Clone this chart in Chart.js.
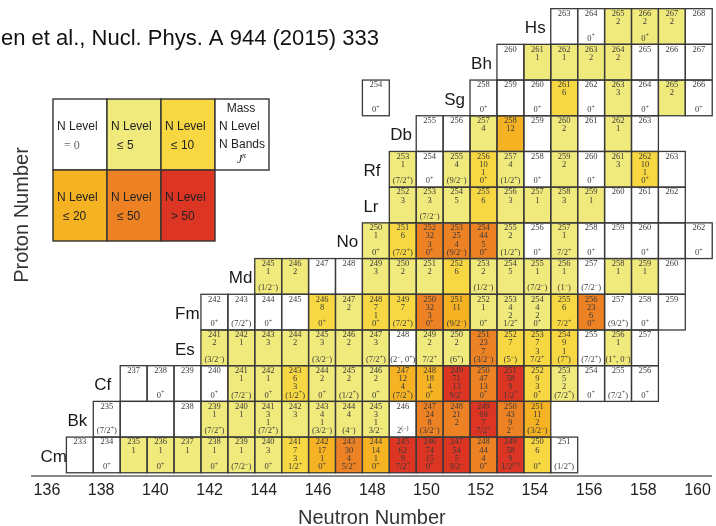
<!DOCTYPE html>
<html>
<head>
<meta charset="utf-8">
<title>Heavy nuclei: levels and bands</title>
<script src="https://cdn.jsdelivr.net/npm/chart.js@4.4.1/dist/chart.umd.min.js"></script>
<style>
  html, body { margin: 0; padding: 0; background: #fff; }
</style>
</head>
<body>
<canvas id="nucChart" width="716" height="526"></canvas>
<script>
"use strict";

const elementSymbols = ["Cm", "Bk", "Cf", "Es", "Fm", "Md", "No", "Lr", "Rf", "Db", "Sg", "Bh", "Hs"];
const protonNumbers = [96, 97, 98, 99, 100, 101, 102, 103, 104, 105, 106, 107, 108];
const neutronTicks = [136, 138, 140, 142, 144, 146, 148, 150, 152, 154, 156, 158, 160];

// [mass, N level, N bands, J^pi] -- a null level is an empty slot
const cm = [[233, 0, "", ""], [234, 0, "", "0+"], [235, 1, "", ""], [236, 1, "", "0+"], [237, 1, "", ""],
  [238, 1, "", "0+"], [239, 1, "", "(7/2-)"], [240, 3, "", "0+"], [241, 7, 3, "1/2+"], [242, 17, 1, "0+"],
  [243, 30, 4, "5/2+"], [244, 14, 1, "0+"], [245, 62, 9, "7/2+"], [246, 74, 15, "0+"], [247, 54, 5, "9/2-"],
  [248, 44, 4, "0+"], [249, 58, 9, "1/2(+)"], [250, 6, "", "0+"], [251, 0, "", "(1/2+)"]];
const bk = [[235, 0, "", "(7/2+)"], [236, null], [237, null], [238, 0, "", ""], [239, 1, "", "(7/2+)"],
  [240, 1, "", ""], [241, 3, 1, "(7/2+)"], [242, 3, "", ""], [243, 4, 1, "(3/2-)"], [244, 4, "", "(4-)"],
  [245, 3, 1, "3/2-"], [246, 0, "", "2(-)"], [247, 24, 8, "(3/2-)"], [248, 21, 2, ""], [249, 69, 7, "7/2+"],
  [250, 43, 9, "2-"], [251, 11, 2, "(3/2-)"]];
const cf = [[237, 0, "", ""], [238, 0, "", "0+"], [239, 0, "", ""], [240, 0, "", "0+"], [241, 1, "", "(7/2-)"],
  [242, 1, "", "0+"], [243, 6, 3, "(1/2+)"], [244, 2, "", "0+"], [245, 2, "", "(1/2+)"], [246, 2, "", "0+"],
  [247, 12, 4, "(7/2+)"], [248, 18, 4, "0+"], [249, 71, 13, "9/2-"], [250, 47, 13, "0+"], [251, 58, 9, "1/2+"],
  [252, 9, 3, "0+"], [253, 5, 2, "(7/2+)"], [254, 0, "", "0+"], [255, 0, "", "(7/2+)"], [256, 0, "", "0+"]];
const es = [[241, 2, "", "(3/2-)"], [242, 1, "", ""], [243, 3, "", ""], [244, 2, "", ""], [245, 3, "", "(3/2-)"],
  [246, 2, "", ""], [247, 3, "", "(7/2+)"], [248, 0, "", "(2-, 0+)"], [249, 2, "", "7/2+"], [250, 2, "", "(6+)"],
  [251, 23, 7, "(3/2-)"], [252, 7, "", "(5-)"], [253, 7, 3, "7/2+"], [254, 9, 1, "(7+)"], [255, 0, "", "(7/2+)"],
  [256, 1, "", "(1+, 0-)"], [257, 0, "", ""]];
const fm = [[242, 0, "", "0+"], [243, 0, "", "(7/2+)"], [244, 0, "", "0+"], [245, 0, "", ""], [246, 8, "", "0+"],
  [247, 2, "", ""], [248, 7, 1, "0+"], [249, 7, "", "(7/2+)"], [250, 32, 3, "0+"], [251, 11, "", "(9/2-)"],
  [252, 1, "", "0+"], [253, 4, 2, "1/2+"], [254, 4, 2, "0+"], [255, 6, "", "7/2+"], [256, 23, 6, "0+"],
  [257, 0, "", "(9/2+)"], [258, 0, "", "0+"], [259, 0, "", ""]];
const md = [[245, 1, "", "(1/2-)"], [246, 2, "", ""], [247, 0, "", ""], [248, 0, "", ""], [249, 3, "", ""],
  [250, 2, "", ""], [251, 2, "", ""], [252, 6, "", ""], [253, 2, "", "(1/2-)"], [254, 5, "", ""],
  [255, 1, "", "(7/2-)"], [256, 1, "", "(1-)"], [257, 0, "", "(7/2-)"], [258, 1, "", ""], [259, 1, "", ""],
  [260, 0, "", ""]];
const no = [[250, 1, "", "0+"], [251, 6, "", "(7/2+)"], [252, 32, 3, "0+"], [253, 25, 4, "(9/2-)"], [254, 44, 5, "0+"],
  [255, 2, "", "(1/2+)"], [256, 0, "", "0+"], [257, 1, "", "7/2+"], [258, 0, "", "0+"], [259, 0, "", ""],
  [260, 0, "", "0+"], [261, null], [262, 0, "", "0+"]];
const lr = [[252, 3, "", ""], [253, 3, "", "(7/2-)"], [254, 5, "", ""], [255, 6, "", ""], [256, 3, "", ""],
  [257, 1, "", ""], [258, 3, "", ""], [259, 1, "", ""], [260, 0, "", ""], [261, 0, "", ""], [262, 0, "", ""]];
const rf = [[253, 1, "", "(7/2+)"], [254, 0, "", "0+"], [255, 4, "", "(9/2-)"], [256, 10, 1, "0+"], [257, 4, "", "(1/2+)"],
  [258, 0, "", "0+"], [259, 2, "", ""], [260, 0, "", "0+"], [261, 3, "", ""], [262, 10, 1, "0+"], [263, 0, "", ""]];
const db = [[255, 0, "", ""], [256, 0, "", ""], [257, 4, "", ""], [258, 12, "", ""], [259, 0, "", ""],
  [260, 2, "", ""], [261, 0, "", ""], [262, 1, "", ""], [263, 0, "", ""]];
const sg = [[254, 0, "", "0+"], [258, 0, "", "0+"], [259, 0, "", ""], [260, 0, "", "0+"], [261, 6, "", ""],
  [262, 0, "", "0+"], [263, 3, "", ""], [264, 0, "", "0+"], [265, 2, "", ""], [266, 0, "", "0+"]];
const bh = [[260, 0, "", ""], [261, 1, "", ""], [262, 1, "", ""], [263, 2, "", ""], [264, 2, "", ""],
  [265, 0, "", ""], [266, 0, "", ""], [267, 0, "", ""]];
const hs = [[263, 0, "", ""], [264, 0, "", "0+"], [265, 2, "", ""], [266, 2, "", "0+"], [267, 2, "", ""], [268, 0, "", ""]];
const nucleiByRow = [cm, bk, cf, es, fm, md, no, lr, rf, db, sg, bh, hs];

const levelColors = ["#ffffff", "#f0e97c", "#f7d842", "#f5b324", "#ed8225", "#dc3523"];
const legendLabels = ["= 0", "\u2264 5", "\u2264 10", "\u2264 20", "\u2264 50", "> 50"];

function colorFor(level) {
  if (!level) return levelColors[0];
  if (level <= 5) return levelColors[1];
  if (level <= 10) return levelColors[2];
  if (level <= 20) return levelColors[3];
  if (level <= 50) return levelColors[4];
  return levelColors[5];
}

// one floating bar per nucleus, empty neighbours merged into one box
const cells = [];
const rowLabels = [];
nucleiByRow.forEach((row, r) => {
  const z = protonNumbers[r];
  let blockStart = null, prevN = null;
  row.forEach(([mass, level, bands, spin]) => {
    const n = mass - z;
    if (prevN === null || n !== prevN + 1) blockStart = n;
    prevN = n;
    const last = cells[cells.length - 1];
    if (level === null && last && last.y === z && last.level === null) {
      last.x[1] = n + 0.5;
      return;
    }
    cells.push({ x: [n - 0.5, n + 0.5], y: z, mass: level === null ? null : mass, level, bands, spin });
  });
  rowLabels.push({ text: elementSymbols[r], z, n: blockStart });
});

function drawSpin(ctx, spin, cx, cy) {
  const sign = s => (s === "-" ? "\u2212" : "+");
  const parts = [];
  for (let i = 0; i < spin.length; i++) {
    const ch = spin[i];
    if (ch === "(" && (spin[i + 1] === "+" || spin[i + 1] === "-") && spin[i + 2] === ")") {
      parts.push({ t: "(" + sign(spin[i + 1]) + ")", sup: true });
      i += 2;
    } else if (ch === "+" || ch === "-") {
      parts.push({ t: sign(ch), sup: true });
    } else {
      parts.push({ t: ch, sup: false });
    }
  }
  const baseFont = '8.5px "Liberation Serif"';
  const supFont = '6px "Liberation Serif"';
  let total = 0;
  parts.forEach(p => {
    ctx.font = p.sup ? supFont : baseFont;
    p.w = ctx.measureText(p.t).width;
    total += p.w;
  });
  let px = cx - total / 2;
  ctx.textAlign = "left";
  parts.forEach(p => {
    ctx.font = p.sup ? supFont : baseFont;
    ctx.fillText(p.t, px, p.sup ? cy - 2.5 : cy);
    px += p.w;
  });
  ctx.textAlign = "center";
}

const cellTextPlugin = {
  id: "cellText",
  afterDatasetsDraw(chart) {
    const ctx = chart.ctx;
    const meta = chart.getDatasetMeta(0);
    const xScale = chart.scales.x;
    const yScale = chart.scales.y;
    ctx.save();
    ctx.strokeStyle = "#3a3a3a";
    ctx.lineWidth = 1.3;
    ctx.textBaseline = "middle";
    meta.data.forEach((bar, i) => {
      const c = cells[i];
      const { x, y, base, height } = bar.getProps(["x", "y", "base", "height"], true);
      const left = Math.min(x, base);
      const w = Math.abs(x - base);
      const top = y - height / 2;
      ctx.strokeRect(left, top, w, height);
      if (c.mass === null) return;
      const cx = left + w / 2;
      ctx.fillStyle = "#3a3a3a";
      ctx.font = '8.5px "Liberation Serif"';
      ctx.textAlign = "center";
      ctx.fillText(String(c.mass), cx, top + height * 0.14);
      if (c.level) ctx.fillText(String(c.level), cx, top + height * 0.37);
      if (c.bands !== "") ctx.fillText(String(c.bands), cx, top + height * 0.6);
      if (c.spin) drawSpin(ctx, c.spin, cx, top + height * 0.83);
    });

    // element symbols in front of each row
    ctx.fillStyle = "#1a1a1a";
    ctx.font = '17px "Liberation Sans"';
    ctx.textAlign = "left";
    rowLabels.forEach(l => {
      ctx.fillText(l.text, xScale.getPixelForValue(l.n - 1.5) + 1, yScale.getPixelForValue(l.z) + 2);
    });
    ctx.restore();
  },
  afterDraw(chart) {
    const ctx = chart.ctx;
    ctx.save();
    // reference, cut at the left edge as in the original slide
    ctx.fillStyle = "#111";
    ctx.font = '22px "Liberation Sans"';
    ctx.textAlign = "left";
    ctx.textBaseline = "alphabetic";
    ctx.fillText("en et al., Nucl. Phys. A 944 (2015) 333", 1, 45);

    // y axis title
    ctx.save();
    ctx.translate(22, 215);
    ctx.rotate(-Math.PI / 2);
    ctx.font = '20px "Liberation Sans"';
    ctx.fillStyle = "#333";
    ctx.textAlign = "center";
    ctx.textBaseline = "middle";
    ctx.fillText("Proton Number", 0, 0);
    ctx.restore();

    // colour key
    const cols = [53, 107, 161, 215, 269];
    const rows = [99, 170, 241];
    const boxes = [
      [0, 0, 0], [1, 0, 1], [2, 0, 2],
      [0, 1, 3], [1, 1, 4], [2, 1, 5]
    ];
    ctx.lineWidth = 1.4;
    ctx.strokeStyle = "#333";
    ctx.textBaseline = "middle";
    boxes.forEach(([c, r, k]) => {
      const x0 = cols[c], y0 = rows[r], w = cols[c + 1] - x0, h = rows[r + 1] - y0;
      ctx.fillStyle = levelColors[k];
      ctx.fillRect(x0, y0, w, h);
      ctx.strokeRect(x0, y0, w, h);
      ctx.fillStyle = "#222";
      ctx.textAlign = "left";
      ctx.font = '12px "Liberation Sans"';
      ctx.fillText("N Level", x0 + 4, y0 + 28);
      ctx.fillStyle = k === 0 ? "#666" : "#222";
      ctx.font = k === 0 ? '12px "Liberation Serif"' : '12px "Liberation Sans"';
      ctx.fillText(legendLabels[k], x0 + (k === 0 ? 11 : 10), y0 + 47);
    });
    const dx = cols[3], dy = rows[0], dw = cols[4] - cols[3], dh = rows[1] - rows[0];
    ctx.fillStyle = "#fff";
    ctx.fillRect(dx, dy, dw, dh);
    ctx.strokeRect(dx, dy, dw, dh);
    ctx.fillStyle = "#222";
    ctx.font = '12px "Liberation Sans"';
    ctx.textAlign = "center";
    ctx.fillText("Mass", dx + 26, dy + 10);
    ctx.textAlign = "left";
    ctx.fillText("N Level", dx + 4, dy + 28);
    ctx.fillText("N Bands", dx + 4, dy + 46);
    ctx.font = 'italic 12px "Liberation Serif"';
    ctx.fillText("J", dx + 22, dy + 61);
    ctx.font = 'italic 8px "Liberation Serif"';
    ctx.fillText("\u03c0", dx + 27, dy + 57);
    ctx.restore();
  }
};

new Chart(document.getElementById("nucChart"), {
  type: "bar",
  data: {
    datasets: [{
      data: cells,
      xAxisID: "x",
      yAxisID: "y",
      backgroundColor: ctx => colorFor(ctx.raw ? ctx.raw.level : 0),
      borderWidth: 0,
      borderSkipped: false,
      categoryPercentage: 1,
      barPercentage: 1
    }]
  },
  options: {
    indexAxis: "y",
    responsive: false,
    animation: false,
    events: [],
    layout: { padding: { left: 32, right: 2, top: 4, bottom: 0 } },
    plugins: {
      legend: { display: false },
      tooltip: { enabled: false }
    },
    scales: {
      x: {
        type: "linear",
        axis: "x",
        display: false,
        min: 135.222,
        max: 160.481,
        beginAtZero: false
      },
      x2: {
        type: "linear",
        axis: "x",
        position: "bottom",
        min: 135.449,
        max: 160.522,
        beginAtZero: false,
        afterBuildTicks: scale => {
          scale.ticks = neutronTicks.map(v => ({ value: v }));
        },
        afterFit: scale => {
          scale.height = 50;
        },
        ticks: {
          autoSkip: false,
          maxRotation: 0,
          padding: 5,
          color: "#222",
          font: { family: "Liberation Sans", size: 16 }
        },
        grid: { display: false, drawTicks: false },
        border: { display: true, color: "#8a8a8a", width: 2 },
        title: {
          display: true,
          text: "Neutron Number",
          color: "#333",
          padding: { top: 0, bottom: -2 },
          font: { family: "Liberation Sans", size: 20, lineHeight: 1 }
        }
      },
      y: {
        type: "linear",
        display: false,
        offset: false,
        min: 95.41,
        max: 108.63,
        afterBuildTicks: scale => {
          scale.ticks = protonNumbers.map(v => ({ value: v }));
        }
      }
    }
  },
  plugins: [cellTextPlugin]
});
</script>
</body>
</html>
